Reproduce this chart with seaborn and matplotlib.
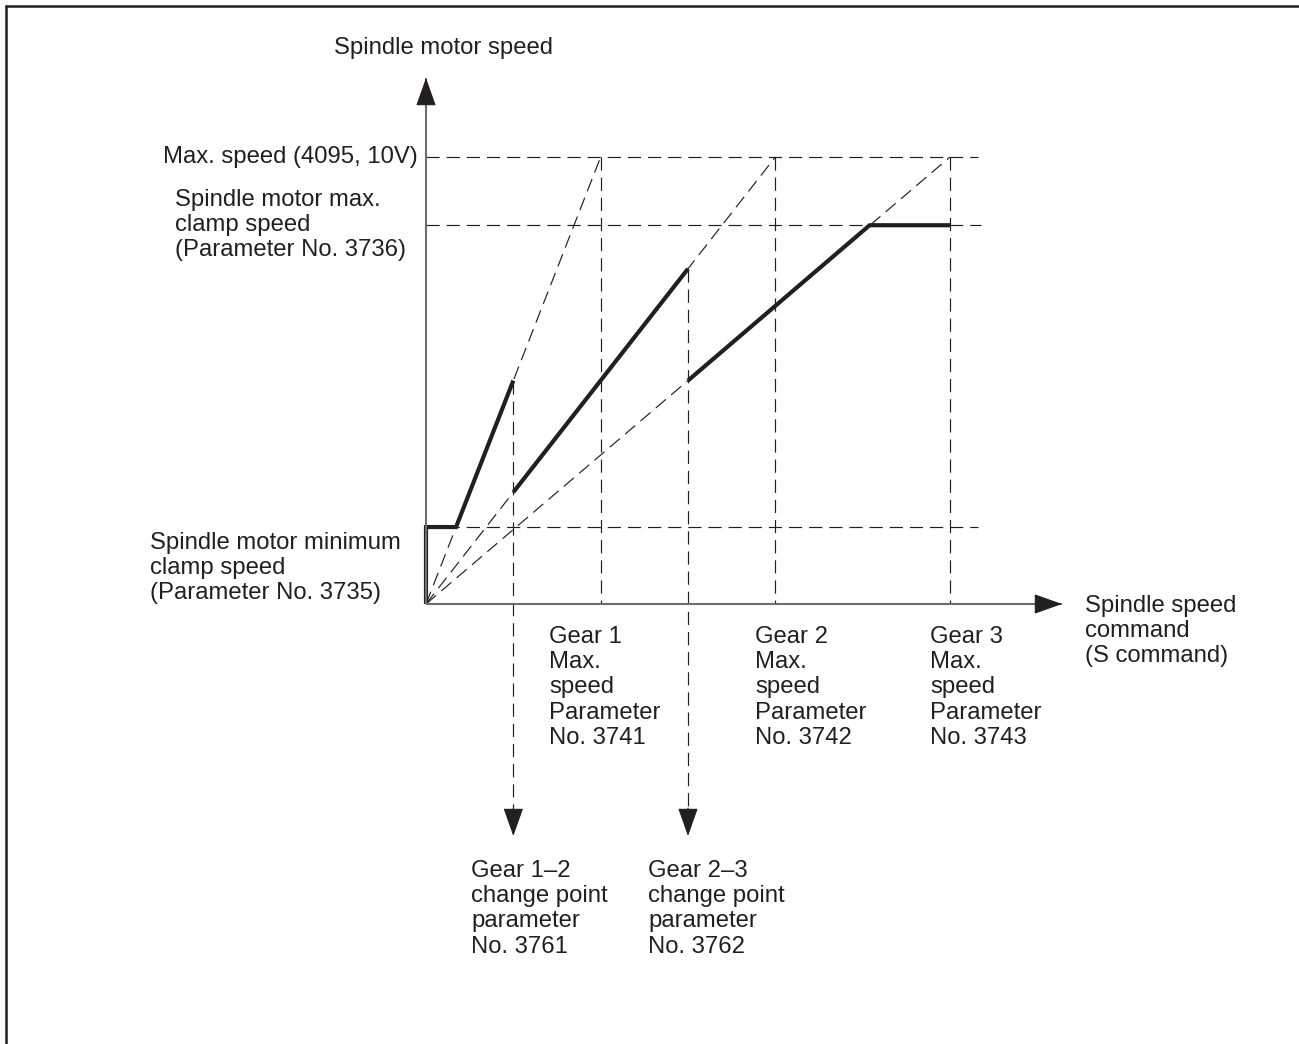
"""Spindle motor speed vs. S command: gear change diagram."""
import matplotlib

matplotlib.use("Agg")
import matplotlib.pyplot as plt
import pandas as pd
import seaborn as sns
from matplotlib.lines import Line2D

# ---- values ----------------------------------------------------------------
MAX_SPEED = 4095          # 10 V
CLAMP_MAX = 3470          # parameter 3736
CLAMP_MIN = 705           # parameter 3735
GEAR_MAX = [1000, 2000, 3000]      # parameters 3741..3743 (S command)
CHANGE_POINTS = [500, 1500]        # parameters 3761, 3762

# thick speed profile, one list per gear segment
gear1_x = [0, 0, 172, 500]
gear1_y = [0, 705, 705, 2047]
gear2_x = [500, 1500]
gear2_y = [1024, 3071]
gear3_x = [1500, 2540, 3000]
gear3_y = [2047, 3470, 3470]

GEAR_LABELS = [f"Gear {i}\nMax.\nspeed\nParameter\nNo. {p}" for i, p in
               zip([1, 2, 3], [3741, 3742, 3743])]
CHANGE_LABELS = ["Gear 1\u20132\nchange point\nparameter\nNo. 3761",
                 "Gear 2\u20133\nchange point\nparameter\nNo. 3762"]

# ---- layout (pixels of the output image) ----------------------------------
W, H, DPI = 1299, 1044, 100
OX, OY = 426, 604                  # origin in pixels
XS = 524 / GEAR_MAX[-1]            # px per S-command unit
YS = 447 / MAX_SPEED               # px per speed unit
INK = "#231f20"
AXIS = "#6d6e71"
FS = 17.2


def at(xp, yp):
    """pixel position -> data coordinates (layout only)"""
    return (xp - OX) / XS, (OY - yp) / YS


sns.set_theme(style="white")
plt.rcParams["font.family"] = ["Liberation Sans", "DejaVu Sans"]
plt.rcParams["lines.scale_dashes"] = False

fig = plt.figure(figsize=(W / DPI, H / DPI), dpi=DPI)
ax = fig.add_axes([0, 0, 1, 1])
ax.set_xlim(at(0, 0)[0], at(W, 0)[0])
ax.set_ylim(at(0, H)[1], at(0, 0)[1])
ax.axis("off")

# ---- dashed guide lines ---------------------------------------------------
x_end = at(978, 0)[0]
arrow_tip = at(0, 836)[1]
arrow_base = at(0, 808)[1]
guides = []


def seg(name, xs, ys):
    guides.extend({"seg": name, "x": x, "y": y} for x, y in zip(xs, ys))


seg("max", [0, x_end], [MAX_SPEED, MAX_SPEED])
seg("cmax", [0, at(981, 0)[0]], [CLAMP_MAX, CLAMP_MAX])
seg("cmin", [0, x_end], [CLAMP_MIN, CLAMP_MIN])
for g in GEAR_MAX:
    seg(f"v{g}", [g, g], [MAX_SPEED, 0])
    seg(f"d{g}", [0, g], [0, MAX_SPEED])
seg("c1", [CHANGE_POINTS[0]] * 2, [gear1_y[-1], arrow_base])
seg("c2", [CHANGE_POINTS[1]] * 2, [gear2_y[-1], arrow_base])
guides = pd.DataFrame(guides)

sns.lineplot(data=guides, x="x", y="y", units="seg", estimator=None,
             sort=False, color=INK, lw=0.85, linestyle=(0, (9.5, 5)), ax=ax)

# ---- thick speed profile --------------------------------------------------
profile = pd.concat([
    pd.DataFrame({"seg": "g1", "x": gear1_x, "y": gear1_y}),
    pd.DataFrame({"seg": "g2", "x": gear2_x, "y": gear2_y}),
    pd.DataFrame({"seg": "g3", "x": gear3_x, "y": gear3_y}),
])
sns.lineplot(data=profile, x="x", y="y", units="seg", estimator=None,
             sort=False, color=INK, lw=3.0, solid_joinstyle="miter",
             solid_capstyle="butt", ax=ax)

# ---- axes with arrows -----------------------------------------------------
y_top = at(0, 78)[1]
x_right = at(1062, 0)[0]
ax.plot([0, 0], [0, y_top], color=AXIS, lw=1.5, solid_capstyle="butt")
ax.plot([0, x_right], [0, 0], color=AXIS, lw=1.5, solid_capstyle="butt")

head = dict(arrowstyle="-|>,head_length=0.9,head_width=0.32",
            mutation_scale=20, color=INK, lw=0.8, shrinkA=0, shrinkB=0)
ax.annotate("", xy=(0, y_top), xytext=(0, y_top - 20 / YS), arrowprops=head)
ax.annotate("", xy=(x_right, 0), xytext=(x_right - 20 / XS, 0), arrowprops=head)
for c in CHANGE_POINTS:
    ax.annotate("", xy=(c, arrow_tip), xytext=(c, arrow_base), arrowprops=head)

# ---- text -----------------------------------------------------------------
txt = dict(fontsize=FS, color=INK, linespacing=1.19)
ax.text(*at(443, 48), "Spindle motor speed", ha="center", va="center", **txt)
ax.text(*at(418, 157), "Max. speed (4095, 10V)", ha="right", va="center", **txt)
ax.text(*at(175, 189), "Spindle motor max.\nclamp speed\n(Parameter No. 3736)",
        ha="left", va="top", **txt)
ax.text(*at(150, 532), "Spindle motor minimum\nclamp speed\n(Parameter No. 3735)",
        ha="left", va="top", **txt)
ax.text(*at(1085, 595), "Spindle speed\ncommand\n(S command)",
        ha="left", va="top", **txt)
for xp, label in zip([549, 755, 930], GEAR_LABELS):
    ax.text(*at(xp, 626), label, ha="left", va="top", **txt)
for xp, label in zip([471, 648], CHANGE_LABELS):
    ax.text(*at(xp, 860), label, ha="left", va="top", **txt)

# ---- page frame (top and left edges only) ---------------------------------
fig.add_artist(Line2D([6 / W, 1], [1 - 6 / H] * 2, color=INK, lw=1.8,
                      transform=fig.transFigure))
fig.add_artist(Line2D([6 / W] * 2, [0, 1 - 6 / H], color=INK, lw=1.8,
                      transform=fig.transFigure))

fig.savefig("out.png", dpi=DPI)
plt.close(fig)
